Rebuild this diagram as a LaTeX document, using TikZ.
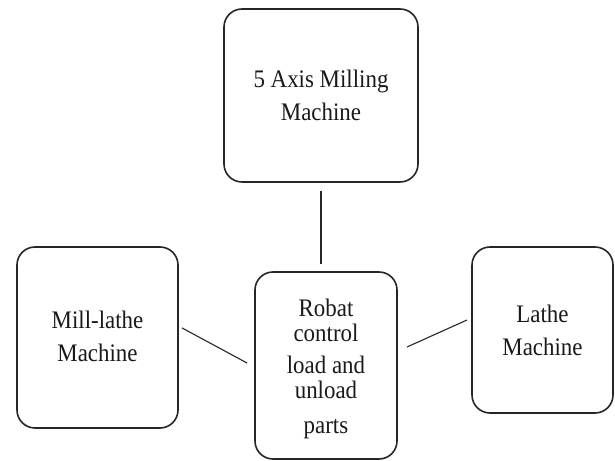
\documentclass[tikz,border=0pt]{standalone}
\usepackage{fontspec}
\setmainfont{Liberation Serif}
\usetikzlibrary{calc}

\tikzset{
  machine/.style={draw=black!85, line width=1.6bp, rounded corners=18bp,
    inner sep=0pt, outer sep=0pt},
  caption/.style={align=center, text=black!90, inner sep=0pt,
    yscale=1.1, transform shape, font=\fontsize{23}{30}\selectfont},
  link/.style={draw=black!85, line width=1.1bp}
}

\begin{document}
\begin{tikzpicture}[x=1bp, y=1bp]
  \useasboundingbox (0,0) rectangle (615,461);

  % machines around the robot cell
  \node[machine, minimum width=194bp, minimum height=173bp] (mill5) at (321,365.5) {};
  \node[machine, minimum width=161bp, minimum height=181bp] (millathe) at (97.5,123.5) {};
  \node[machine, minimum width=141bp, minimum height=166bp] (lathe) at (542.5,131) {};
  \node[machine, minimum width=142bp, minimum height=187bp] (robot) at (326,95.5) {};

  % box captions
  \node[caption] (mill5-txt) at ($(mill5.center)+(0,0.5)$) {5 Axis Milling\\Machine};
  \node[caption] (millathe-txt) at ($(millathe.center)+(0,1.5)$) {Mill-lathe\\Machine};
  \node[caption] (lathe-txt) at ($(lathe.center)+(0,0)$) {Lathe\\Machine};
  \node[caption, font=\fontsize{23}{22.7}\selectfont] (robot-txt) at ($(robot.center)+(0,-3.5)$)
    {Robat\\control\\[7bp]load and\\unload\\[9bp]parts};

  % connections to the robot
  \draw[link, shorten <=9bp, shorten >=8bp] (mill5.south) -- (mill5.south |- robot.north);
  \draw[link, shorten <=4.5bp, shorten >=9bp]
    ($(millathe.east)+(0,11.7)$) -- ($(robot.west)+(0,-1.8)$);
  \draw[link, shorten <=11bp, shorten >=5.5bp]
    ($(robot.east)+(0,14)$) -- ($(lathe.west)+(0,12.25)$);
\end{tikzpicture}
\end{document}
